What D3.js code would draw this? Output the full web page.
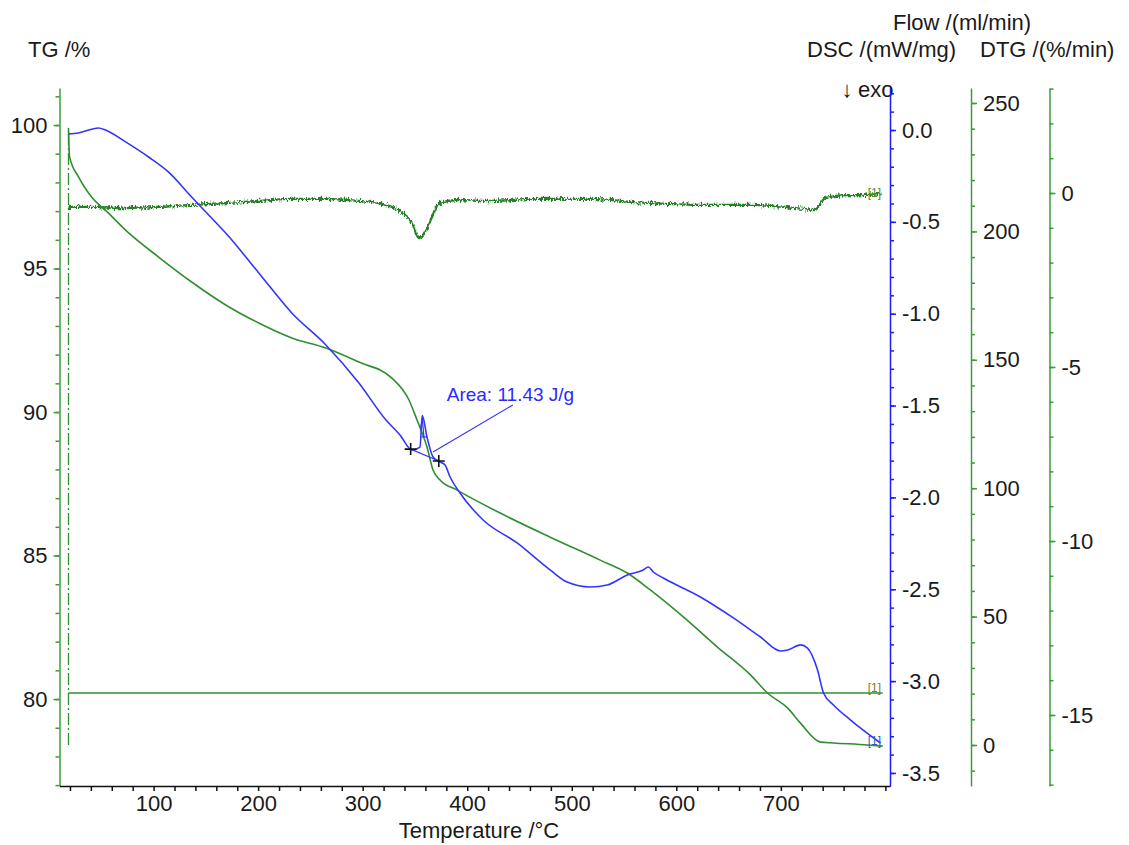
<!DOCTYPE html>
<html>
<head>
<meta charset="UTF-8">
<title>TG / DSC / DTG</title>
<script src="https://cdn.jsdelivr.net/npm/d3@7"></script>
<style>
    body{
        margin: 0;
        padding: 0;
        background: #fff;
    }
    svg text{
        font-family: "Liberation Sans", Arial, sans-serif;
        fill: #1a1a1a;
    }
    .axis text{
        font-size: 22px;
    }
    .title{
        font-size: 22px;
    }
</style>
</head>
<body>
<script>

    // TG curve (temperature °C, mass %)
    var tgTemp  = [18.6,19.6,28.2,40.7,56.9,73.2,104.8,136.4,169,200.6,232.2,264.8,296.4,328,344.3,352,361.5,367.3,374,390.3,431.5,479.4,527.2,553.1,575.1,606.7,639.3,670.9,687.2,706.4,718.8,738,750.4,783,797.4];
    var tgValue = [99.9,98.9,98.19,97.49,96.93,96.34,95.40,94.53,93.73,93.10,92.58,92.23,91.74,91.18,90.42,89.72,88.78,87.98,87.63,87.28,86.48,85.64,84.84,84.39,83.80,82.86,81.81,80.84,80.21,79.69,79.16,78.50,78.47,78.40,78.36];

    // DSC curve (mW/mg)
    var dscTemp  = [18.6,28.2,47.4,54,73.2,95.2,114.4,136.4,152.7,169,200.6,232.2,264.8,296.4,322.3,335.7,347.2,354.8,357,361.5,367.3,374,378.8,383.6,393.1,415.2,447.7,479.3,495.6,517.7,534,553.1,568.4,573.2,578,587.6,623,654.6,680.5,699.7,706.4,718.8,725.5,735.1,740.8,750.4,766.7,795.4];
    var dscValue = [-0.022,-0.016,0.011,0.0,-0.065,-0.147,-0.229,-0.365,-0.463,-0.561,-0.778,-0.996,-1.170,-1.377,-1.579,-1.660,-1.742,-1.726,-1.555,-1.671,-1.780,-1.807,-1.824,-1.889,-1.976,-2.123,-2.248,-2.395,-2.461,-2.488,-2.477,-2.422,-2.395,-2.379,-2.406,-2.439,-2.542,-2.656,-2.760,-2.836,-2.831,-2.803,-2.820,-2.940,-3.065,-3.130,-3.212,-3.337];

    // DTG curve (%/min)
    var dtgTemp  = [18.6,40.7,73.2,104.8,136.4,169,200.6,232.2,264.8,296.4,315.6,328,337.6,347.2,353.9,360.6,366.3,373,392.2,417.1,467.9,518.6,558.9,620.2,670.9,722.6,732.2,742.7,762.9,773.4,796.4];
    var dtgValue = [-0.40,-0.40,-0.43,-0.40,-0.34,-0.29,-0.23,-0.17,-0.17,-0.23,-0.29,-0.40,-0.55,-0.86,-1.30,-1.06,-0.69,-0.29,-0.20,-0.23,-0.17,-0.17,-0.26,-0.34,-0.34,-0.46,-0.49,-0.14,-0.06,-0.06,-0.03];

    // purge flow (ml/min)
    var flowTemp  = [18.6,797.4];
    var flowValue = [20.2,20.2];
    var flowStartValue = [0,238];

    // peak integration
    var peakStart = [345.9,-1.737];
    var peakEnd   = [372.8,-1.802];
    var peakArea  = "Area: 11.43 J/g";

    // tick labels
    var xLabels    = [100,200,300,400,500,600,700];
    var tgLabels   = [80,85,90,95,100];
    var dscLabels  = [0.0,-0.5,-1.0,-1.5,-2.0,-2.5,-3.0,-3.5];
    var flowLabels = [0,50,100,150,200,250];
    var dtgLabels  = [0,-5,-10,-15];

    var green = "#2f8f2f", axisGreen = "#3c9c3c", blue = "#3434ff", axisBlue = "#1c1cff";
    var plotTop = 88, plotBottom = 786, plotLeft = 59.5, plotRight = 890;

    var svg = d3.select("body").append("svg")
        .attr("width", 1129)
        .attr("height", 845);

    var x = d3.scaleLinear().domain([10, 804.4]).range([plotLeft, plotRight]);
    var yTG   = d3.scaleLinear().domain([76.97, 101.29]).range([plotBottom, plotTop]);
    var yDSC  = d3.scaleLinear().domain([-3.571, 0.2286]).range([plotBottom, plotTop]);
    var yFlow = d3.scaleLinear().domain([-15.97, 255.84]).range([plotBottom, plotTop]);
    var yDTG  = d3.scaleLinear().domain([-17.04, 3.017]).range([plotBottom, plotTop]);

    function zip(a, b){
        return a.map(function(d, i){ return [d, b[i]]; });
    }

    // noisy look for the DTG trace (vertical jitter only)
    var defs = svg.append("defs");
    var noise = defs.append("filter").attr("id", "noise")
        .attr("x", "-2%").attr("y", "-60%").attr("width", "104%").attr("height", "220%");
    noise.append("feTurbulence").attr("type", "fractalNoise")
        .attr("baseFrequency", "0.7 0.25").attr("numOctaves", 2).attr("seed", 4).attr("result", "n");
    noise.append("feColorMatrix").attr("in", "n").attr("type", "matrix")
        .attr("values", "0 0 0 0 0.5  0 1 0 0 0  0 0 0 0 0  0 0 0 0 1").attr("result", "m");
    noise.append("feDisplacementMap").attr("in", "SourceGraphic").attr("in2", "m")
        .attr("scale", 7).attr("xChannelSelector", "R").attr("yChannelSelector", "G");

    defs.append("clipPath").attr("id", "plot")
        .append("rect").attr("x", plotLeft).attr("y", plotTop)
        .attr("width", plotRight - plotLeft).attr("height", plotBottom - plotTop);

    // titles
    svg.append("text").attr("class", "title").attr("x", 28).attr("y", 57).text("TG /%");
    svg.append("text").attr("class", "title").attr("x", 893).attr("y", 30).text("Flow /(ml/min)");
    svg.append("text").attr("class", "title").attr("x", 807).attr("y", 57).text("DSC /(mW/mg)");
    svg.append("text").attr("class", "title").attr("x", 980).attr("y", 57).text("DTG /(%/min)");
    svg.append("text").attr("class", "title").attr("x", 479).attr("y", 838)
        .attr("text-anchor", "middle").text("Temperature /°C");
    svg.append("text").attr("class", "title").attr("x", 847).attr("y", 97)
        .attr("text-anchor", "middle").text("↓");
    svg.append("text").attr("class", "title").attr("x", 858).attr("y", 97).text("exo");

    var plot = svg.append("g").attr("clip-path", "url(#plot)");

    // flow
    plot.append("path")
        .datum(zip(flowTemp, flowValue))
        .attr("fill", "none").attr("stroke", green).attr("stroke-width", 1.5)
        .attr("d", d3.line().x(function(d){ return x(d[0]); }).y(function(d){ return yFlow(d[1]); }));
    plot.append("line")
        .attr("x1", x(flowTemp[0])).attr("x2", x(flowTemp[0]))
        .attr("y1", yFlow(flowStartValue[0])).attr("y2", yFlow(flowStartValue[1]))
        .attr("stroke", green).attr("stroke-width", 1.3)
        .attr("stroke-dasharray", "12,3,2,3");

    // DTG
    plot.append("path")
        .datum(zip(dtgTemp, dtgValue))
        .attr("fill", "none").attr("stroke", "#267f26").attr("stroke-width", 2.4)
        .attr("filter", "url(#noise)")
        .attr("d", d3.line().curve(d3.curveMonotoneX)
            .x(function(d){ return x(d[0]); }).y(function(d){ return yDTG(d[1]); }));

    // TG
    plot.append("path")
        .datum(zip(tgTemp, tgValue))
        .attr("fill", "none").attr("stroke", green).attr("stroke-width", 1.6)
        .attr("d", d3.line().curve(d3.curveMonotoneX)
            .x(function(d){ return x(d[0]); }).y(function(d){ return yTG(d[1]); }));

    // DSC
    var dscLine = d3.line().curve(d3.curveMonotoneX)
        .x(function(d){ return x(d[0]); }).y(function(d){ return yDSC(d[1]); });
    plot.append("path")
        .datum(zip(dscTemp, dscValue))
        .attr("fill", "none").attr("stroke", blue).attr("stroke-width", 1.6)
        .attr("d", dscLine);

    // peak integration: baseline, inner bar, leader, markers
    plot.append("path").datum([peakStart, peakEnd])
        .attr("fill", "none").attr("stroke", blue).attr("stroke-width", 1.2).attr("d", dscLine);
    plot.append("path").datum([[356.2, -1.671], [361.2, -1.671]])
        .attr("fill", "none").attr("stroke", blue).attr("stroke-width", 1.2).attr("d", dscLine);
    plot.append("path").datum([[355.6, -1.62], [357, -1.57], [358.6, -1.67]])
        .attr("fill", "none").attr("stroke", blue).attr("stroke-width", 1.2)
        .attr("d", d3.line().x(function(d){ return x(d[0]); }).y(function(d){ return yDSC(d[1]); }));
    plot.append("path").datum([[367.3, -1.753], [443.6, -1.497]])
        .attr("fill", "none").attr("stroke", blue).attr("stroke-width", 1.2).attr("d", dscLine);
    plot.selectAll(".marker")
        .data([peakStart, peakEnd])
        .enter().append("path")
        .attr("class", "marker")
        .attr("transform", function(d){ return "translate(" + x(d[0]) + "," + yDSC(d[1]) + ")"; })
        .attr("d", "M-6,0H6M0,-6V6")
        .attr("stroke", "#111").attr("stroke-width", 1.6);
    svg.append("text")
        .attr("x", x(380.4)).attr("y", yDSC(-1.475))
        .style("fill", "#2a2aff").style("font-size", "19px")
        .text(peakArea);

    // end labels
    var endX = x(797.4) - 15;
    svg.append("text").attr("x", endX).attr("y", yDTG(dtgValue[dtgValue.length - 1]) + 3)
        .style("font-size", "12px").style("fill", "#5f8a2f").text("[1]");
    svg.append("text").attr("x", endX).attr("y", yFlow(flowValue[1]) - 1)
        .style("font-size", "12px").style("fill", "#7d7a35").text("[1]");
    svg.append("text").attr("x", endX).attr("y", yTG(tgValue[tgValue.length - 1]) - 1)
        .style("font-size", "12px").style("fill", "#2f5fbf").text("[1]");

    // plain hyphen minus, as in the original software
    function fmt(digits){
        return function(d){ return d.toFixed(digits); };
    }

    // axes
    function yAxis(scale, pos, axisFn, labels, minor, format, color){
        var g = svg.append("g").attr("class", "axis")
            .attr("transform", "translate(" + pos + ",0)")
            .style("color", color);
        g.append("g")
            .call(axisFn(scale).tickValues(minor).tickSize(4).tickSizeOuter(0).tickFormat(""));
        g.append("g")
            .call(axisFn(scale).tickValues(labels).tickSize(6).tickSizeOuter(0).tickPadding(6).tickFormat(format))
            .select(".domain").remove();
        g.selectAll("path, line").attr("stroke-width", 1.5);
        return g;
    }

    yAxis(yTG, plotLeft, d3.axisLeft, tgLabels, d3.range(77, 102), fmt(0), axisGreen);
    yAxis(yDSC, plotRight, d3.axisRight, dscLabels, d3.range(-35, 3).map(function(d){ return d / 10; }), fmt(1), axisBlue);
    yAxis(yFlow, 971, d3.axisRight, flowLabels, d3.range(-10, 256, 10), fmt(0), axisGreen);
    yAxis(yDTG, 1049.5, d3.axisRight, dtgLabels, d3.range(-17, 4), fmt(0), axisGreen);

    svg.append("g").attr("class", "axis")
        .attr("transform", "translate(0," + plotBottom + ")")
        .style("color", "#111")
        .call(d3.axisBottom(x)
            .tickValues(d3.range(20, 801, 20))
            .tickSize(5).tickSizeOuter(0).tickPadding(4)
            .tickFormat(function(d){ return xLabels.indexOf(d) >= 0 ? d : ""; }))
        .selectAll("path, line").attr("stroke-width", 1.5);

</script>
</body>
</html>
